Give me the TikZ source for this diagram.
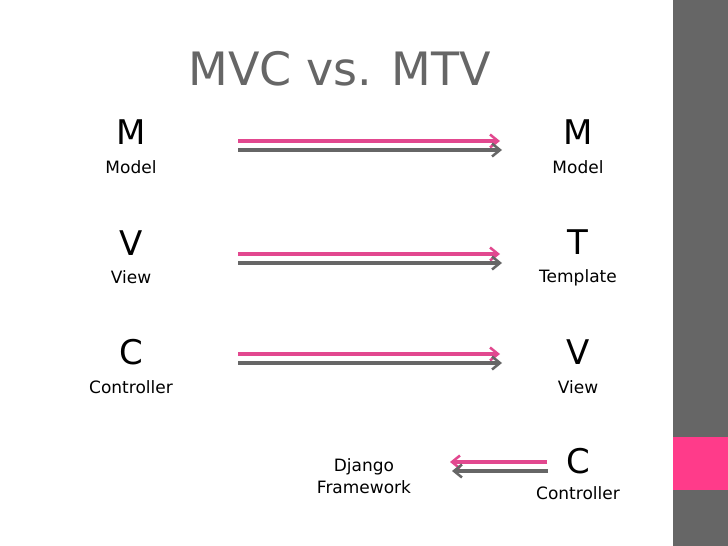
\documentclass[tikz,border=0pt]{standalone}
\usepackage{fontspec}
\setmainfont{DejaVu Sans}
\usetikzlibrary{arrows.meta, positioning}
\definecolor{slidegray}{HTML}{666666}
\definecolor{slidepink}{HTML}{FF3B8A}
\definecolor{arrowpink}{HTML}{E2488F}
\pgfdeclareradialshading{vignette}{\pgfpoint{0bp}{0bp}}{color(0bp)=(white); color(36bp)=(white); color(50bp)=(black!9); color(100bp)=(black!9)}
\tikzstyle{letter} = [font=\fontsize{34}{40}\selectfont, inner sep=0pt]
\tikzstyle{caption} = [font=\fontsize{17}{22}\selectfont, inner sep=0pt, align=center]
\tikzstyle{pinkarrow} = [draw=arrowpink, line width=3.5pt, -{Straight Barb[length=8pt, width=13pt, line width=2.5pt]}]
\tikzstyle{grayarrow} = [draw=slidegray, line width=4.5pt, -{Straight Barb[length=8pt, width=13pt, line width=2.5pt]}]

\begin{document}
\begin{tikzpicture}[x=1pt, y=-1pt, node distance=15pt]
\useasboundingbox (0,0) rectangle (728,546);

% Background and side bar
\shade[shading=vignette] (0,0) rectangle (673,546);
\fill[slidegray] (673,0) rectangle (728,546);
\fill[slidepink] (673,437) rectangle (728,490);

% Title
\node[font=\fontsize{46}{50}\selectfont, text=slidegray, inner sep=0pt] (title) at (340,68.5) {MVC vs. MTV};

% MVC column
\node[letter] (mvcM) at (131,132.5) {M};
\node[caption, below=of mvcM] (mvcMl) {Model};
\node[letter] (mvcV) at (131,243) {V};
\node[caption, below=of mvcV] (mvcVl) {View};
\node[letter] (mvcC) at (131,352.5) {C};
\node[caption, below=of mvcC] (mvcCl) {Controller};

% MTV column
\node[letter] (mtvM) at (578,132.5) {M};
\node[caption, below=of mtvM] (mtvMl) {Model};
\node[letter] (mtvT) at (578,242) {T};
\node[caption, below=of mtvT] (mtvTl) {Template};
\node[letter] (mtvV) at (578,352.5) {V};
\node[caption, below=of mtvV] (mtvVl) {View};
\node[letter] (mtvC) at (578,461) {C};
\node[caption, below=12pt of mtvC] (mtvCl) {Controller};

% Django
\node[caption] (django) at (364,476) {Django\\Framework};

% Arrow ends
\coordinate (p1s) at (238,141); \coordinate (p1e) at (500,141);
\coordinate (g1s) at (238,150); \coordinate (g1e) at (502,150);
\coordinate (p2s) at (238,254); \coordinate (p2e) at (500,254);
\coordinate (g2s) at (238,263); \coordinate (g2e) at (502,263);
\coordinate (p3s) at (238,354); \coordinate (p3e) at (500,354);
\coordinate (g3s) at (238,363); \coordinate (g3e) at (502,363);
\coordinate (p4s) at (547,462); \coordinate (p4e) at (450,462);
\coordinate (g4s) at (548,471); \coordinate (g4e) at (452,471);

% Arrows
\draw[pinkarrow] (p1s) -- (p1e);
\draw[grayarrow] (g1s) -- (g1e);
\draw[pinkarrow] (p2s) -- (p2e);
\draw[grayarrow] (g2s) -- (g2e);
\draw[pinkarrow] (p3s) -- (p3e);
\draw[grayarrow] (g3s) -- (g3e);
\draw[pinkarrow] (p4s) -- (p4e);
\draw[grayarrow] (g4s) -- (g4e);

\end{tikzpicture}
\end{document}
